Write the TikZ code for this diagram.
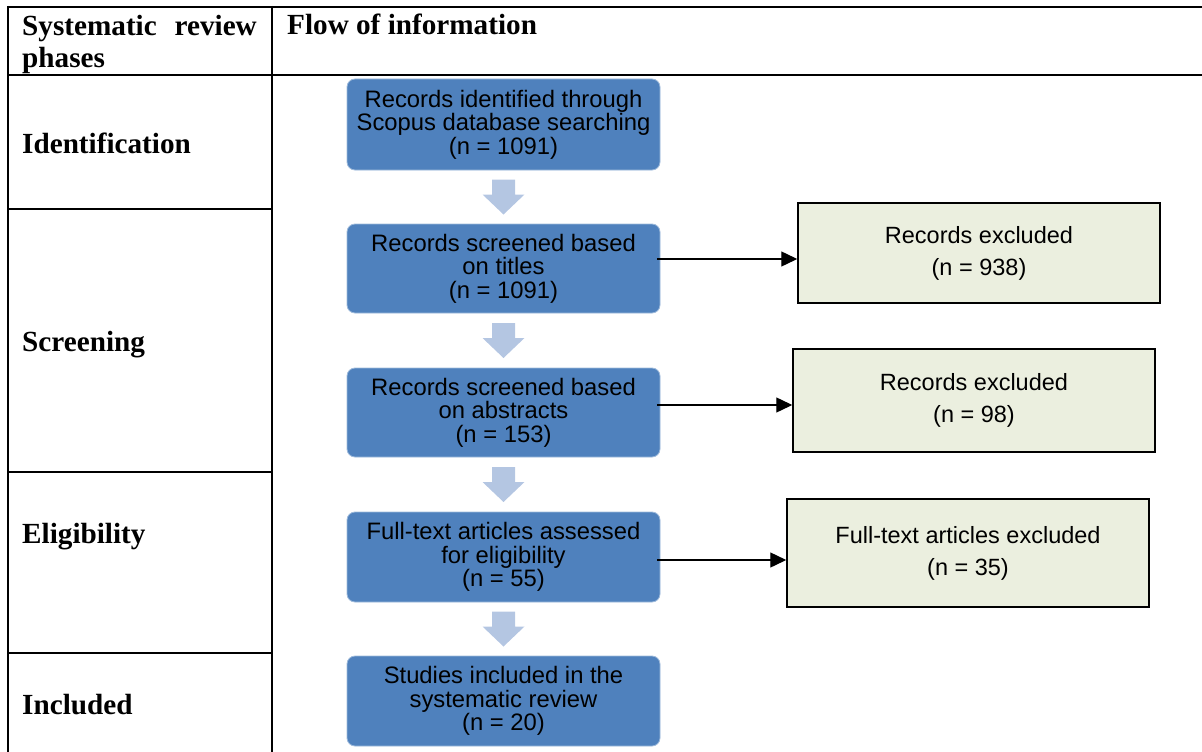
\documentclass[tikz,border=0pt]{standalone}
\usepackage{fontspec}
\setmainfont{Liberation Serif}
\newfontfamily\stagefont{Liberation Sans}
\usetikzlibrary{arrows.meta,calc}
\definecolor{flowblue}{HTML}{4F81BD}
\definecolor{chevblue}{HTML}{B4C6E2}
\definecolor{exclfill}{HTML}{EBEFDF}
\begin{document}
\begin{tikzpicture}[x=1pt,y=-1pt,
  rule/.style={line width=2.5pt},
  heading/.style={anchor=base west,inner sep=0pt,font=\fontsize{29.2}{34}\selectfont\bfseries},
  stage/.style={draw=flowblue!55!white,line width=0.8pt,fill=flowblue,rounded corners=8pt,
    minimum width=313pt,minimum height=90pt,align=center,inner sep=0pt,
    font=\stagefont\fontsize{23.8}{23.6}\selectfont},
  excl/.style={draw=black,line width=1.5pt,fill=exclfill,minimum width=362pt,
    align=center,inner sep=0pt,font=\stagefont\fontsize{23.5}{32}\selectfont},
  flowarrow/.style={line width=1.4pt,-{Triangle[length=16pt,width=15pt]}},
  chevron/.pic={\fill[chevblue] (-11.5,-17.5) -- (11.5,-17.5) -- (11.5,-2.5) -- (21,-2.5)
    -- (0,17.5) -- (-21,-2.5) -- (-11.5,-2.5) -- cycle;}]
\useasboundingbox (0,0) rectangle (1202,752);

% table rules
\draw[rule] (8,7) -- (1202,7);
\draw[rule] (8,75) -- (1202,75);
\draw[rule] (8,6) -- (8,752);
\draw[rule] (272,6) -- (272,752);
\draw[rule] (8,209) -- (272,209);
\draw[rule] (8,472) -- (272,472);
\draw[rule] (8,653) -- (272,653);

% header row
\node[heading] (h1) at (22,36) {Systematic};
\node[heading,anchor=base east] (h2) at (257,36) {review};
\node[heading] (h3) at (22,67) {phases};
\node[heading] (h4) at (287,35) {Flow of information};

% phase labels
\node[heading] (p1) at (22,153) {Identification};
\node[heading] (p2) at (22,351) {Screening};
\node[heading] (p3) at (22,543) {Eligibility};
\node[heading] (p4) at (22,714) {Included};

% main flow
\node[stage,minimum height=91pt] (s1) at (503.5,124.5) {Records identified through\\Scopus database searching\\(n = 1091)};
\node[stage,minimum height=89pt] (s2) at (503.5,268.5) {Records screened based\\on titles\\(n = 1091)};
\node[stage,minimum height=89pt] (s3) at (503.5,412.5) {Records screened based\\on abstracts\\(n = 153)};
\node[stage,minimum height=90pt] (s4) at (503.5,557) {Full-text articles assessed\\for eligibility\\(n = 55)};
\node[stage,minimum height=90pt] (s5) at (503.5,701) {Studies included in the\\systematic review\\(n = 20)};

\pic at ($(s1.south)!0.5!(s2.north)$) {chevron};
\pic at ($(s2.south)!0.5!(s3.north)$) {chevron};
\pic at ($(s3.south)!0.5!(s4.north)$) {chevron};
\pic at ($(s4.south)!0.5!(s5.north)$) {chevron};

% exclusions
\node[excl,minimum height=100pt] (e1) at (979,253) {Records excluded\\(n = 938)};
\node[excl,minimum height=103pt] (e2) at (974,400.5) {Records excluded\\(n = 98)};
\node[excl,minimum height=108pt] (e3) at (968,553) {Full-text articles excluded\\(n = 35)};

\draw[flowarrow] ([xshift=-3pt]s2.east |- 0,259) -- (e1.west |- 0,259);
\draw[flowarrow] ([xshift=-3pt]s3.east |- 0,405) -- (e2.west |- 0,405);
\draw[flowarrow] ([xshift=-3pt]s4.east |- 0,560) -- (e3.west |- 0,560);
\end{tikzpicture}
\end{document}
